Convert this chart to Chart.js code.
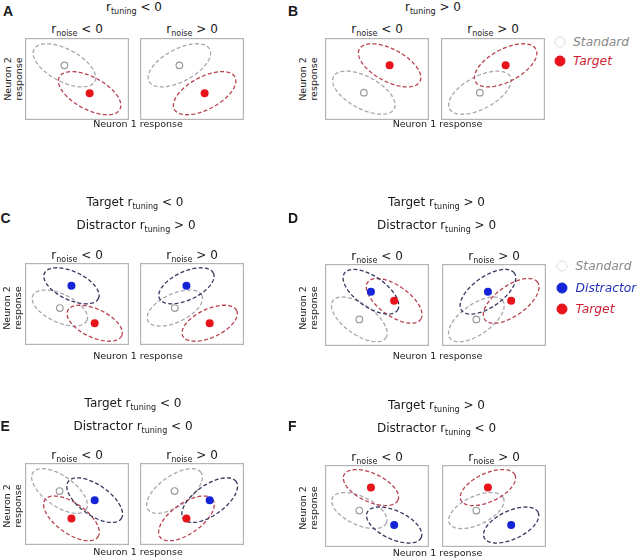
<!DOCTYPE html>
<html>
<head>
<meta charset="utf-8">
<script src="https://cdn.jsdelivr.net/npm/chart.js@4.4.0/dist/chart.umd.min.js"></script>
<style>
  body { margin: 0; background: #fff; }
  #fig { position: relative; width: 640px; height: 558px; overflow: hidden; font-family: "DejaVu Sans", sans-serif; color: #1a1a1a; }
  .t { position: absolute; white-space: nowrap; line-height: 1; transform: translate(-50%, -50%); font-size: 12px; }
  .t sub { font-size: 8px; vertical-align: -3px; line-height: 0; }
  .ax { font-size: 9.5px; }
  .vl { position: absolute; font-size: 9.5px; line-height: 10.5px; text-align: center; white-space: nowrap; transform: translate(-50%, -50%) rotate(-90deg); }
  .letter { position: absolute; font: bold 14px "Liberation Sans", Arial, sans-serif; line-height: 1; }
  .box { position: absolute; }
  .lg { position: absolute; font-style: italic; font-size: 12.3px; line-height: 1; transform: translateY(-50%); white-space: nowrap; }
  .mk { position: absolute; width: 11px; height: 11px; border-radius: 50%; transform: translate(-50%, -50%); box-sizing: border-box; }
</style>
</head>
<body>
<div id="fig"></div>
<script>
// panels A-F, each has r_noise < 0 (left) and r_noise > 0 (right)
const panels = ["A", "B", "C", "D", "E", "F"];
const noiseSign = [-1, 1];

// stimulus means (Neuron 1 response, Neuron 2 response)
const standardX = [39, 38.5, 34.5, 34, 34.2, 34];
const standardY = [54, 27, 36.5, 26.3, 53.3, 36];
const targetX = [64, 64, 69, 68.5, 46, 45.5];
const targetY = [26.5, 54, 21.5, 44.6, 26.3, 58.7];
const distractorX = [null, null, 46, 45.5, 69, 68.5];
const distractorY = [null, null, 58.5, 53.6, 44.3, 21.7];

// noise ellipse shape per panel
const ellipseMajor = [34, 34, 29.5, 32, 32, 29.5];
const ellipseMinor = [16, 16, 14, 15, 15, 14];
const ellipseTilt = [28, 28, 25, 35, 35, 25];

const fig = document.getElementById("fig");

const COL = {
  stdLine: "#a9a5b0", tgtLine: "#b8424f", disLine: "#36365f",
  tgtDot: "#e8141c", disDot: "#1424d6", stdDot: "#9a9a9a"
};

// layout of the boxes (left, top)
const layout = {
  A: [[25, 37.5], [140, 37.5]],
  B: [[325, 37.5], [441, 37.5]],
  C: [[25, 263], [140, 263]],
  D: [[325, 264], [442, 264]],
  E: [[25, 463], [140, 463]],
  F: [[325, 465], [442, 465]]
};

const ellipsePlugin = {
  id: "ellipses",
  beforeDatasetsDraw(chart, args, opts) {
    const { ctx, scales: { x, y } } = chart;
    ctx.save();
    ctx.lineWidth = 1.3;
    ctx.setLineDash([4, 2.3]);
    (opts.list || []).forEach(e => {
      const th = e.tilt * Math.PI / 180;
      ctx.strokeStyle = e.color;
      ctx.beginPath();
      for (let i = 0; i <= 96; i++) {
        const t = i / 96 * Math.PI * 2;
        const dx = e.a * Math.cos(t), dy = e.b * Math.sin(t);
        const px = x.getPixelForValue(e.x + dx * Math.cos(th) - dy * Math.sin(th));
        const py = y.getPixelForValue(e.y + dx * Math.sin(th) + dy * Math.cos(th));
        if (i === 0) ctx.moveTo(px, py); else ctx.lineTo(px, py);
      }
      ctx.stroke();
    });
    ctx.restore();
  }
};

const framePlugin = {
  id: "frame",
  afterDraw(chart) {
    const { ctx, chartArea: a } = chart;
    ctx.save();
    ctx.strokeStyle = "#b4b4b4";
    ctx.lineWidth = 1.2;
    ctx.strokeRect(a.left + 0.6, a.top + 0.6, a.right - a.left - 1.2, a.bottom - a.top - 1.2);
    ctx.restore();
  }
};

function el(cls, html, x, y, extra) {
  const d = document.createElement("div");
  d.className = cls;
  d.innerHTML = html;
  d.style.left = x + "px";
  d.style.top = y + "px";
  if (extra) Object.assign(d.style, extra);
  fig.appendChild(d);
  return d;
}

panels.forEach((p, i) => {
  noiseSign.forEach((s, k) => {
    const [left, top] = layout[p][k];
    const wrap = el("box", "", left, top);
    const cv = document.createElement("canvas");
    cv.width = 104; cv.height = 82;
    wrap.appendChild(cv);

    const tilt = s * ellipseTilt[i];
    const list = [
      { x: standardX[i], y: standardY[i], a: ellipseMajor[i], b: ellipseMinor[i], tilt, color: COL.stdLine },
      { x: targetX[i], y: targetY[i], a: ellipseMajor[i], b: ellipseMinor[i], tilt, color: COL.tgtLine }
    ];
    const datasets = [
      { data: [{ x: standardX[i], y: standardY[i] }], pointRadius: 3.3, pointBackgroundColor: "#fff", pointBorderColor: COL.stdDot, pointBorderWidth: 1.2 },
      { data: [{ x: targetX[i], y: targetY[i] }], pointRadius: 4, pointBackgroundColor: COL.tgtDot, pointBorderColor: COL.tgtDot, pointBorderWidth: 0 }
    ];
    if (distractorX[i] !== null) {
      list.push({ x: distractorX[i], y: distractorY[i], a: ellipseMajor[i], b: ellipseMinor[i], tilt, color: COL.disLine });
      datasets.push({ data: [{ x: distractorX[i], y: distractorY[i] }], pointRadius: 4, pointBackgroundColor: COL.disDot, pointBorderColor: COL.disDot, pointBorderWidth: 0 });
    }

    new Chart(cv, {
      type: "scatter",
      data: { datasets },
      options: {
        responsive: false,
        animation: false,
        events: [],
        layout: { padding: 0, autoPadding: false },
        plugins: { legend: { display: false }, tooltip: { enabled: false }, ellipses: { list } },
        scales: {
          x: { display: false, min: 0, max: 103 },
          y: { display: false, min: 0, max: 81 }
        }
      },
      plugins: [ellipsePlugin, framePlugin]
    });

    // r_noise label above each box
    el("t", "r<sub>noise</sub> " + (s < 0 ? "&lt;" : "&gt;") + " 0", left + 52, top - 8.5);
  });
});

// panel letters
el("letter", "A", 3, 3.5); el("letter", "B", 288, 3.5);
el("letter", "C", 0.5, 210.5); el("letter", "D", 288, 210.5);
el("letter", "E", 0.5, 418.5); el("letter", "F", 288, 418.5);

// headers
const sub = "r<sub>tuning</sub>";
el("t", sub + " &lt; 0", 134, 7);
el("t", sub + " &gt; 0", 433, 7);
el("t", "Target " + sub + " &lt; 0", 135, 202);
el("t", "Distractor " + sub + " &gt; 0", 136, 224.5);
el("t", "Target " + sub + " &gt; 0", 436.5, 202);
el("t", "Distractor " + sub + " &gt; 0", 436.5, 224.5);
el("t", "Target " + sub + " &lt; 0", 133, 403);
el("t", "Distractor " + sub + " &lt; 0", 133, 426);
el("t", "Target " + sub + " &gt; 0", 436.5, 405);
el("t", "Distractor " + sub + " &lt; 0", 436.5, 427.5);

// axis labels
[[138, 124], [437.5, 124], [138, 356], [437.5, 356], [138, 552], [437.5, 552.5]].forEach(([x, y]) =>
  el("t ax", "Neuron 1 response", x, y));
[[12.5, 79], [307.5, 79], [12, 308], [307.5, 308], [12, 506], [307.5, 508]].forEach(([x, y]) =>
  el("vl", "Neuron 2<br>response", x, y));

// legends
function legendRow(x, y, label, fill, border, textColor) {
  el("mk", "", x, y, { background: fill, border: "1.5px solid " + border });
  el("lg", label, x + 13.5, y, { color: textColor });
}
legendRow(559.5, 42, "Standard", "#fff", "#dcdcdc", "#8a8a8a");
legendRow(559.5, 61, "Target", COL.tgtDot, COL.tgtDot, "#cc1f35");
legendRow(562, 266, "Standard", "#fff", "#dcdcdc", "#8a8a8a");
legendRow(562, 287.5, "Distractor", COL.disDot, COL.disDot, "#2230b8");
legendRow(562, 309, "Target", COL.tgtDot, COL.tgtDot, "#cc1f35");
</script>
</body>
</html>
